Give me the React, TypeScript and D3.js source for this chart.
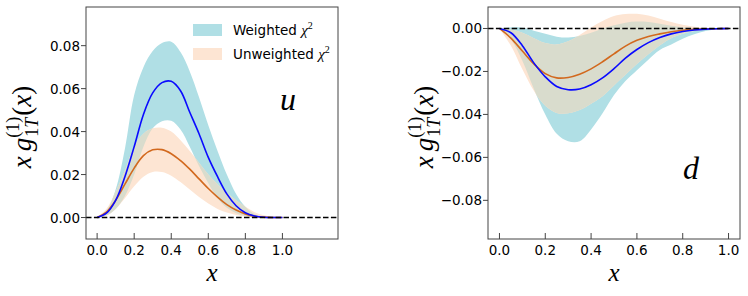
import React from 'react';
import * as d3 from 'd3';

// x grid shared by every curve
const xGrid = [0, 0.05, 0.1, 0.15, 0.2, 0.25, 0.3, 0.35, 0.4, 0.45, 0.5, 0.55, 0.6, 0.65, 0.7, 0.75, 0.8, 0.85, 0.9, 0.95, 1.0];

// u quark, weighted chi2 fit (central, upper, lower)
const uW = [0, 0.002, 0.008, 0.019, 0.033, 0.048, 0.058, 0.0628, 0.0634, 0.059, 0.049, 0.039, 0.028, 0.019, 0.011, 0.0055, 0.0022, 0.0007, 0.0001, 0, 0];
const uWHi = [0, 0.003, 0.013, 0.032, 0.057, 0.07, 0.0775, 0.0812, 0.0818, 0.077, 0.068, 0.056, 0.043, 0.031, 0.02, 0.011, 0.005, 0.0015, 0.0003, 0, 0];
const uWLo = [0, 0.001, 0.004, 0.01, 0.02, 0.033, 0.0415, 0.0448, 0.045, 0.041, 0.033, 0.024, 0.016, 0.009, 0.0045, 0.002, 0.0007, 0.0002, 0, 0, 0];
// u quark, unweighted chi2 fit
const uU = [0, 0.0025, 0.008, 0.0155, 0.023, 0.0288, 0.0315, 0.0316, 0.0297, 0.0265, 0.0225, 0.018, 0.0135, 0.0095, 0.006, 0.0035, 0.0017, 0.0006, 0.0002, 0, 0];
const uUHi = [0.0003, 0.004, 0.012, 0.022, 0.033, 0.039, 0.0415, 0.0418, 0.04, 0.036, 0.031, 0.0255, 0.02, 0.0155, 0.0115, 0.008, 0.005, 0.0025, 0.001, 0.0003, 0];
const uULo = [0, 0.0008, 0.004, 0.009, 0.0145, 0.019, 0.0212, 0.0212, 0.0195, 0.0165, 0.013, 0.0095, 0.0065, 0.004, 0.0023, 0.0012, 0.0005, 0.0002, 0, 0, 0];

// d quark, weighted chi2 fit
const dW = [0, -0.002, -0.008, -0.016, -0.0225, -0.027, -0.0285, -0.0282, -0.0262, -0.023, -0.0187, -0.0138, -0.0098, -0.0066, -0.0042, -0.0025, -0.0014, -0.0007, -0.0003, -0.0001, 0];
const dWHi = [0, 0.0005, 0.0003, -0.001, -0.0025, -0.0038, -0.0042, -0.0035, -0.002, 0, 0.0015, 0.0027, 0.0032, 0.003, 0.0022, 0.0013, 0.0006, 0.0002, 0.0001, 0, 0];
const dWLo = [0, -0.005, -0.015, -0.028, -0.04, -0.049, -0.0525, -0.0525, -0.047, -0.0395, -0.031, -0.0245, -0.0195, -0.0145, -0.01, -0.0075, -0.0048, -0.0027, -0.0012, -0.0003, 0];
// d quark, unweighted chi2 fit
const dU = [0, -0.0045, -0.0105, -0.0165, -0.021, -0.023, -0.0228, -0.0213, -0.0188, -0.0155, -0.0118, -0.0082, -0.0055, -0.0037, -0.0025, -0.0015, -0.0008, -0.0004, -0.0002, -0.0001, 0];
const dUHi = [0, -0.0005, -0.002, -0.0045, -0.0068, -0.0075, -0.006, -0.003, 0.0005, 0.0035, 0.0058, 0.0067, 0.0068, 0.006, 0.0045, 0.003, 0.0017, 0.0008, 0.0003, 0.0001, 0];
const dULo = [0, -0.008, -0.019, -0.029, -0.036, -0.0393, -0.0395, -0.038, -0.035, -0.0315, -0.0265, -0.0215, -0.0165, -0.012, -0.0078, -0.0045, -0.0025, -0.0012, -0.0005, -0.0001, 0];

const xTicks = [0, 0.2, 0.4, 0.6, 0.8, 1.0];
const uYTicks = [0, 0.02, 0.04, 0.06, 0.08];
const dYTicks = [0, -0.02, -0.04, -0.06, -0.08];
const legendLabels = ['Weighted', 'Unweighted'];

const BLUE_BAND = '#b0dfe5';
const PEACH_BAND = '#fde5d3';
const OVERLAP = '#d9dccd';
const BLUE_LINE = '#0a0aff';
const ORANGE_LINE = '#d2691e';
const SPINE = '#444';
const SANS = 'DejaVu Sans, sans-serif';
const SERIF = 'Liberation Serif, DejaVu Serif, serif';

function YLabel({ cx, cy }) {
  return (
    <g transform={`translate(${cx},${cy}) rotate(-90)`}>
      <text textAnchor="middle" fontFamily={SERIF} fontSize={27} fill="#000">
        <tspan fontStyle="italic">x</tspan>
        <tspan fontStyle="italic" dx={5}>g</tspan>
        <tspan fontSize={18} dy={-12}>(1)</tspan>
        <tspan fontSize={18} dx={-20} dy={19}>1</tspan>
        <tspan fontSize={18} fontStyle="italic">T</tspan>
        <tspan dx={2} dy={-7}>(</tspan>
        <tspan fontStyle="italic">x</tspan>
        <tspan>)</tspan>
      </text>
    </g>
  );
}

function Panel({ id, frame, xDomain, yDomain, yTicks, w, wHi, wLo, un, unHi, unLo, letter, letterX, letterY, showLegend }) {
  const x = d3.scaleLinear().domain(xDomain).range([frame.left, frame.right]);
  const y = d3.scaleLinear().domain(yDomain).range([frame.bottom, frame.top]);
  const curve = d3.curveCatmullRom.alpha(0.5);

  const band = (hi, lo) =>
    d3.area<number>().x((d) => x(d)).y0((d, i) => y(lo[i])).y1((d, i) => y(hi[i])).curve(curve)(xGrid);
  const line = (vals) => d3.line<number>().x((d) => x(d)).y((d, i) => y(vals[i])).curve(curve)(xGrid);

  const blueBand = band(wHi, wLo);
  const peachBand = band(unHi, unLo);
  const fmt = d3.format('.2f');
  const fmtX = d3.format('.1f');

  return (
    <g>
      <defs>
        <clipPath id={`clip-${id}`}>
          <rect x={frame.left} y={frame.top} width={frame.right - frame.left} height={frame.bottom - frame.top} />
        </clipPath>
        <clipPath id={`wband-${id}`}>
          <path d={blueBand} />
        </clipPath>
      </defs>
      <g clipPath={`url(#clip-${id})`}>
        <path d={blueBand} fill={BLUE_BAND} />
        <path d={peachBand} fill={PEACH_BAND} />
        <path d={peachBand} fill={OVERLAP} clipPath={`url(#wband-${id})`} />
        <path d={line(un)} fill="none" stroke={ORANGE_LINE} strokeWidth={1.6} />
        <path d={line(w)} fill="none" stroke={BLUE_LINE} strokeWidth={1.6} />
        <line x1={frame.left} x2={frame.right} y1={y(0)} y2={y(0)} stroke="#000" strokeWidth={1.5} strokeDasharray="5.5,2.4" />
      </g>
      <rect x={frame.left} y={frame.top} width={frame.right - frame.left} height={frame.bottom - frame.top}
        fill="none" stroke={SPINE} strokeWidth={1} />
      {xTicks.map((t) => (
        <g key={`x${t}`}>
          <line x1={x(t)} x2={x(t)} y1={frame.bottom} y2={frame.bottom - 6} stroke={SPINE} strokeWidth={1} />
          <text x={x(t)} y={frame.bottom + 16} textAnchor="middle" fontFamily={SANS} fontSize={13.5} fill="#000">{fmtX(t)}</text>
        </g>
      ))}
      {yTicks.map((t) => (
        <g key={`y${t}`}>
          <line x1={frame.left - 5} x2={frame.left} y1={y(t)} y2={y(t)} stroke={SPINE} strokeWidth={1} />
          <text x={frame.left - 6} y={y(t) + 5} textAnchor="end" fontFamily={SANS} fontSize={13.5} fill="#000">{fmt(t)}</text>
        </g>
      ))}
      <text x={(frame.left + frame.right) / 2} y={frame.bottom + 42} textAnchor="middle" fontFamily={SERIF}
        fontStyle="italic" fontSize={25} fill="#000">x</text>
      <YLabel cx={frame.left - 55} cy={127} />
      <text x={letterX} y={letterY} textAnchor="middle" fontFamily={SERIF} fontStyle="italic" fontSize={32} fill="#000">{letter}</text>
      {showLegend && legendLabels.map((lab, i) => (
        <g key={lab} transform={`translate(${frame.left + 107},${frame.top + 17 + i * 24})`}>
          <rect x={0} y={0} width={29} height={12} fill={i === 0 ? BLUE_BAND : PEACH_BAND} />
          <text x={40} y={11} fontFamily={SANS} fontSize={13.5} fill="#000">
            {lab + ' '}
            <tspan fontFamily={SERIF} fontStyle="italic" fontSize={15}>χ</tspan>
            <tspan fontFamily={SERIF} fontSize={10} dy={-6}>2</tspan>
          </text>
        </g>
      ))}
    </g>
  );
}

export default function App() {
  return (
    <svg width={748} height={296} style={{ position: 'absolute', left: 0, top: 0, background: '#fff' }}>
      <Panel id="u" frame={{ left: 86, right: 338, top: 7, bottom: 239 }} xDomain={[-0.06, 1.3]} yDomain={[-0.01, 0.098]}
        yTicks={uYTicks} w={uW} wHi={uWHi} wLo={uWLo} un={uU} unHi={uUHi} unLo={uULo}
        letter="u" letterX={288} letterY={110} showLegend />
      <Panel id="d" frame={{ left: 488, right: 740, top: 7, bottom: 239 }} xDomain={[-0.05, 1.05]} yDomain={[-0.098, 0.01]}
        yTicks={dYTicks} w={dW} wHi={dWHi} wLo={dWLo} un={dU} unHi={dUHi} unLo={dULo}
        letter="d" letterX={691} letterY={179} showLegend={false} />
    </svg>
  );
}
